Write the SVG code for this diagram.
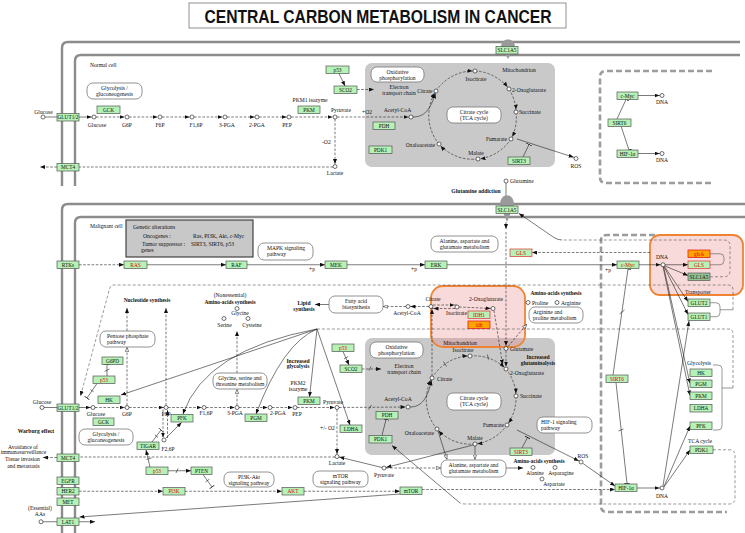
<svg xmlns="http://www.w3.org/2000/svg" width="745" height="533" viewBox="0 0 745 533">
<style>
text{font-family:"Liberation Serif","Times New Roman",serif;font-size:5.6px;fill:#111}
.m{text-anchor:middle}.e{text-anchor:end}.b{font-weight:bold}
.gb{fill:#b5f2b5;stroke:#555;stroke-width:.7}
.rbd{stroke:#e03030}
.ob{fill:#ffa500;stroke:#e02020;stroke-width:.8}
.db{fill:#94c294;stroke:#555;stroke-width:.7}
.gt{font-size:5.3px;text-anchor:middle}
.rt{fill:#e00000}
.cp{fill:#fff;stroke:#111;stroke-width:.6}
.pw{fill:#fff;stroke:#777;stroke-width:.8}
.l{fill:none;stroke:#222;stroke-width:.6}
.d{stroke-dasharray:2.6,1.6}
.mem{fill:none;stroke:#8c8c8c;stroke-width:2.4}
.nuc{fill:none;stroke:#9c9c9c;stroke-width:2.6;stroke-dasharray:6,3}
.mito{fill:#c9c9c9}
.hl{fill:#e87a7a;fill-opacity:.28;stroke:#ef8434;stroke-width:1.8}
.gd{fill:none;stroke:#555;stroke-width:.6;stroke-dasharray:3,2}
.br{fill:none;stroke:#555;stroke-width:.6}
.blob{fill:#9a9a9a}
</style>
<defs>
<marker id="a" viewBox="0 0 5 4" refX="5" refY="2" markerWidth="5" markerHeight="4" orient="auto" markerUnits="userSpaceOnUse"><path d="M0,0L5,2L0,4z" fill="#111"/></marker>
<marker id="ac" viewBox="0 0 5 4" refX="7.5" refY="2" markerWidth="5" markerHeight="4" orient="auto" markerUnits="userSpaceOnUse"><path d="M0,0L5,2L0,4z" fill="#111"/></marker>
<marker id="o" viewBox="0 0 5 4" refX="5" refY="2" markerWidth="5" markerHeight="4" orient="auto" markerUnits="userSpaceOnUse"><path d="M.3,.3L4.7,2L.3,3.7z" fill="#fff" stroke="#111" stroke-width=".5"/></marker>
<marker id="t" viewBox="0 0 1 6" refX=".5" refY="3" markerWidth="1" markerHeight="6" orient="auto" markerUnits="userSpaceOnUse"><path d="M.5,0V6" stroke="#111" stroke-width=".8"/></marker>
</defs>
<rect width="745" height="533" fill="#fff"/>

<g id="title">
<rect x="189" y="3" width="377" height="25" fill="#fff" stroke="#777" stroke-width=".8"/>
<text x="378" y="23" text-anchor="middle" style="font-family:'Liberation Sans',Arial,sans-serif;font-size:18px;font-weight:bold" textLength="347" lengthAdjust="spacingAndGlyphs">CENTRAL CARBON METABOLISM IN CANCER</text>
</g>

<g id="compartments">
<rect class="mito" x="365" y="63" width="190" height="104" rx="7"/>
<rect class="mito" x="365" y="338" width="190" height="117" rx="7"/>
<path class="nuc" d="M712,71H606Q600,71 600,77V177Q600,183 606,183H712"/>
<path class="nuc" d="M655,235H607Q601,235 601,241V506Q601,512 607,512H727"/>
<path class="mem" d="M62,186V48Q62,42 68,42H740"/>
<path class="mem" d="M75,186V61Q75,55 81,55H740"/>
<path class="mem" d="M62,533V210Q62,204 68,204H745"/>
<path class="mem" d="M75,533V223Q75,217 81,217H745"/>
<rect class="hl" x="431" y="286" width="94" height="61" rx="12"/>
<rect class="hl" x="650" y="235" width="93" height="60" rx="10"/>
</g>

<g id="connectors">
<!-- normal cell glycolysis -->
<path class="l" d="M45,117H57"/>
<path class="l" d="M79,117H94" marker-end="url(#ac)"/>
<path class="l d" d="M96,117H127" marker-end="url(#ac)"/>
<path class="l d" d="M129,117H160" marker-end="url(#ac)"/>
<path class="l d" d="M162,117H192" marker-end="url(#ac)"/>
<path class="l d" d="M194,117H225" marker-end="url(#ac)"/>
<path class="l d" d="M227,117H257" marker-end="url(#ac)"/>
<path class="l d" d="M259,117H289" marker-end="url(#ac)"/>
<path class="l d" d="M291,117H335" marker-end="url(#ac)"/>
<path class="l d" d="M337,117H411" marker-end="url(#ac)"/>
<path class="l d" d="M335,119V166.5" marker-end="url(#ac)"/>
<path class="l d" d="M333,167H79"/>
<path class="l d" d="M57,167H40" marker-end="url(#a)"/>
<path class="l" d="M339,73.5L345,86" marker-end="url(#a)"/>
<path class="l d" d="M357,89.5H374" marker-end="url(#a)"/>
<path class="l" d="M413,117C424,117 431,110 436,91" marker-end="url(#ac)"/>
<path class="l d" d="M436,91A45,45 0 0 1 475,71" marker-end="url(#ac)"/>
<path class="l d" d="M475,71A45,45 0 0 1 509,89" marker-end="url(#ac)"/>
<path class="l d" d="M509,89A45,45 0 0 1 516,112" marker-end="url(#ac)"/>
<path class="l d" d="M516,112A45,45 0 0 1 511,139" marker-end="url(#ac)"/>
<path class="l d" d="M511,139A45,45 0 0 1 478,159" marker-end="url(#ac)"/>
<path class="l d" d="M478,159A45,45 0 0 1 439,144" marker-end="url(#ac)"/>
<path class="l d" d="M439,144A45,45 0 0 1 436,91" marker-end="url(#ac)"/>
<path class="l" d="M517,139L576,158" marker-end="url(#ac)"/>
<path class="l" d="M523,157L529,144.5" marker-end="url(#t)"/>
<path class="l" d="M638,95.5H662" marker-end="url(#ac)"/>
<path class="l" d="M638,153.5H662" marker-end="url(#ac)"/>
<path class="l" d="M617,119L626,99.5" marker-end="url(#t)"/>
<path class="l" d="M621,126L629,150" marker-end="url(#t)"/>

<!-- glutamine / signalling -->
<path class="l" d="M506,183V197"/>
<path class="l" d="M506,222V229" marker-end="url(#a)"/>
<path class="l d" d="M506,232V348.5" marker-end="url(#ac)"/>
<path class="l d" d="M650,252.5H532" marker-end="url(#a)"/>
<path class="gd" d="M710,276.75H724Q730,276.75 730,270.75V246Q730,240 724,240H562"/>
<path class="l" d="M562,240Q558,240 554,237.5L519,213.5" marker-end="url(#a)"/>
<path class="br" d="M710,253.75H720Q724,253.75 724,257.75V260.75Q724,264.75 720,264.75H710"/>
<path class="l d" d="M79,264.75H124" marker-end="url(#a)"/>
<path class="l" d="M147,264.75H226" marker-end="url(#a)"/>
<path class="l" d="M247,264.75H325" marker-end="url(#a)"/>
<path class="l" d="M347,264.75H425" marker-end="url(#a)"/>
<path class="l" d="M447,264.75H617" marker-end="url(#a)"/>
<path class="l" d="M639,264.75H663" marker-end="url(#ac)"/>
<path class="l" d="M665,264.75H688" marker-end="url(#a)"/>
<path class="l" d="M665,266L688,275.5" marker-end="url(#a)"/>
<path class="l" d="M664.5,266.5L688,301.5" marker-end="url(#a)"/>
<path class="l" d="M664,266.5L688,314.5" marker-end="url(#a)"/>
<path class="l" d="M663.5,266.5L690,383.5" marker-end="url(#a)"/>
<path class="l" d="M663,266.5L690,395.5" marker-end="url(#a)"/>
<path class="br" d="M710,302.75H716Q720,302.75 720,306.75V312.75Q720,316.75 716,316.75H710M720,309.75H733"/>
<path class="gd" d="M733,309.75V290Q733,285 728,285H114Q110.5,285 109.5,289L80.5,396" marker-end="url(#a)"/>
<path class="br" d="M713,365H718Q722,365 722,369V426Q722,430 718,430H713M722,388H733"/>
<path class="gd" d="M733,388V334Q733,329 728,329H317"/>
<!-- fan to glycolysis enzymes -->
<path class="l" d="M317,329L121,395" marker-end="url(#a)"/>
<path class="l" d="M317,329Q205,350 183,414" marker-end="url(#a)"/>
<path class="l" d="M317,329Q283,343 256,414" marker-end="url(#a)"/>
<path class="l" d="M317,329L309.5,397" marker-end="url(#a)"/>
<path class="l" d="M317,329L350,425" marker-end="url(#a)"/>
<!-- nucleus lower -->
<path class="l" d="M663,486L689,321" marker-end="url(#a)"/>
<path class="l" d="M664,486.5L690,426" marker-end="url(#a)"/>
<path class="l" d="M664,487L690,450" marker-end="url(#a)"/>
<path class="l" d="M637,488H662" marker-end="url(#ac)"/>
<path class="l" d="M583,463.5L615,486" marker-end="url(#a)"/>
<path class="l" d="M517,430L581,462" marker-end="url(#ac)"/>
<path class="l" d="M522,448L527.5,437.5" marker-end="url(#t)"/>
<path class="l" d="M613,375L628,269" marker-end="url(#t)"/>
<path class="l" d="M619.5,314L624.5,310"/>
<path class="l" d="M616,382.5L627,483.5" marker-end="url(#t)"/>
<path class="l" d="M618.5,431L623.5,429"/>
<path class="l d" d="M422,489.5H615" marker-end="url(#a)"/>
<path class="gd" d="M713,449.75H729Q735,449.75 735,455.75V498Q735,504 729,504H466Q462,504 460,503"/>
<path class="l" d="M460,503L392,445.5" marker-end="url(#a)"/>
<!-- cytoplasm glycolysis malignant -->
<path class="l" d="M44,407.5H57"/>
<path class="l" d="M79,407.5H93" marker-end="url(#ac)"/>
<path class="l d" d="M95,407.5H127" marker-end="url(#ac)"/>
<path class="l d" d="M129,407.5H166" marker-end="url(#ac)"/>
<path class="l d" d="M168,407.5H204" marker-end="url(#ac)"/>
<path class="l d" d="M206,407.5H237" marker-end="url(#ac)"/>
<path class="l d" d="M239,407.5H270" marker-end="url(#ac)"/>
<path class="l d" d="M272,407.5H295" marker-end="url(#ac)"/>
<path class="l d" d="M297,407.5H337" marker-end="url(#ac)"/>
<path class="l d" d="M339,407.5L408,407" marker-end="url(#ac)"/>
<path class="l" d="M368.5,409.5L371.5,405"/>
<path class="l d" d="M337,409.5V456.5" marker-end="url(#ac)"/>
<path class="l d" d="M335,457H79"/>
<path class="l d" d="M57,457.5H43" marker-end="url(#a)"/>
<path class="l d" d="M79,491.25H163" marker-end="url(#a)"/>
<path class="l d" d="M185,491.25H282" marker-end="url(#a)"/>
<path class="l d" d="M304,491.25H400" marker-end="url(#a)"/>
<path class="l" d="M400,494L79.5,517" marker-end="url(#a)"/>
<path class="l" d="M43,521.75H57"/>
<path class="l" d="M79,521.75H95" marker-end="url(#a)"/>
<path class="l d" d="M127,405.5V347" marker-end="url(#o)"/>
<path class="l d" d="M166,405.5V308" marker-end="url(#a)"/>
<path class="l d" d="M127,331V308" marker-end="url(#a)"/>
<path class="l d" d="M237,405.5V389" marker-end="url(#o)"/>
<path class="l d" d="M237,373V331" marker-end="url(#a)"/>
<path class="l" d="M107,376V364.5" marker-end="url(#t)"/>
<path class="l" d="M104.5,371.5L109.5,369"/>
<path class="l" d="M97,383.5L87,398" marker-end="url(#t)"/>
<path class="l" d="M90.4,389.6L93.6,391.8"/>
<path class="l d" d="M163,409.5V437.5" marker-end="url(#a)"/>
<path class="l d" d="M167.5,438V410" marker-end="url(#a)"/>
<path class="l" d="M166,438L181.5,422.5" marker-end="url(#a)"/>
<path class="l" d="M152,442L161,430" marker-end="url(#t)"/>
<path class="l" d="M155,435L158,437.5"/>
<path class="l" d="M150,467L146,450" marker-end="url(#a)"/>
<path class="l" d="M146.5,459.5L151.5,458"/>
<path class="l" d="M168,470.75H191" marker-end="url(#a)"/>
<path class="l" d="M176,473L178,468.5"/>
<path class="l" d="M203,474.5L212,487" marker-end="url(#t)"/>
<path class="l" d="M205.5,482L209.5,479"/>
<!-- lower mitochondrion -->
<path class="l" d="M343,351.5L349,365" marker-end="url(#a)"/>
<path class="l" d="M344,359L348,356.5"/>
<path class="l d" d="M362,369H381" marker-end="url(#a)"/>
<path class="l" d="M369,370.5L371,366.5"/>
<path class="l" d="M410,407C422,407 428,398 432,378" marker-end="url(#ac)"/>
<path class="l" d="M382,435.5L386,419.5" marker-end="url(#t)"/>
<path class="l d" d="M432,378A45,45 0 0 1 470,356" marker-end="url(#ac)"/>
<path class="l d" d="M470,356A45,45 0 0 1 506,369" marker-end="url(#ac)"/>
<path class="l d" d="M506,369A45,45 0 0 1 516,396" marker-end="url(#ac)"/>
<path class="l d" d="M516,396A45,45 0 0 1 507,425" marker-end="url(#ac)"/>
<path class="l d" d="M507,425A45,45 0 0 1 475,444" marker-end="url(#ac)"/>
<path class="l d" d="M475,444A45,45 0 0 1 437,429" marker-end="url(#ac)"/>
<path class="l d" d="M437,429A45,45 0 0 1 432,378" marker-end="url(#ac)"/>
<path class="l" d="M443.5,361.5L446.5,366.5M487.3,354.5L488.7,359.5"/>
<path class="l d" d="M432,376V306.5" marker-end="url(#ac)"/>
<path class="l d" d="M494,310.5L503,367" marker-end="url(#ac)"/>
<path class="l d" d="M506,350.5V369" marker-end="url(#ac)"/>
<path class="l d" d="M508,346.5L527,324" marker-end="url(#o)"/>
<path class="l" d="M473,445L384,468" marker-end="url(#ac)"/>
<path class="l" d="M438,431L447,459.5" marker-end="url(#o)"/>
<path class="l" d="M475,446V459.5" marker-end="url(#o)"/>
<path class="l d" d="M386,468H441" marker-end="url(#o)"/>
<path class="l" d="M382,467.5L337,456.5" marker-end="url(#ac)"/>
<path class="l" d="M506,468H523" marker-end="url(#a)"/>
<!-- cytosolic TCA part -->
<path class="l d" d="M406,306.5H383" marker-end="url(#o)"/>
<path class="l d" d="M429,306.5H408" marker-end="url(#ac)"/>
<path class="l d" d="M433,305H457" marker-end="url(#ac)"/>
<path class="l d" d="M455,308.5H431" marker-end="url(#ac)"/>
<path class="l d" d="M459,307L493,308.5" marker-end="url(#ac)"/>
<path class="l" d="M329,304.5H315" marker-end="url(#a)"/>
</g>

<g id="nodes">
<path class="blob" d="M501,47C501,37 515,37 515,47L508,59Z"/>
<path class="blob" d="M500,205C500,192 514,192 514,205L507,222Z"/>
<g id="n-slc1a5-a"><rect class="gb" x="496" y="46.5" width="22" height="7.5"/><text class="gt" x="507" y="52.2">SLC1A5</text></g>
<g id="n-glut12-a"><rect class="gb" x="57" y="113.5" width="22" height="7.5"/><text class="gt" x="68" y="119.2">GLUT1/2</text></g>
<g id="n-mct4-a"><rect class="gb" x="57" y="163.5" width="22" height="7.5"/><text class="gt" x="68" y="169.2">MCT4</text></g>
<g id="n-gck-a"><rect class="gb" x="97" y="106" width="23" height="7.5"/><text class="gt" x="108.5" y="111.7">GCK</text></g>
<g id="n-pkm-a"><rect class="gb" x="298" y="106" width="22" height="7.5"/><text class="gt" x="309" y="111.7">PKM</text></g>
<g id="n-p53-a"><rect class="gb" x="326" y="66" width="23" height="7.5"/><text class="gt" x="337.5" y="71.7">p53</text></g>
<g id="n-sco2-a"><rect class="gb" x="334" y="86" width="23" height="7.5"/><text class="gt" x="345.5" y="91.7">SCO2</text></g>
<g id="n-pdh-a"><rect class="gb" x="373" y="122" width="22" height="7.5"/><text class="gt" x="384" y="127.7">PDH</text></g>
<g id="n-pdk1-a"><rect class="gb" x="369" y="146" width="23" height="7.5"/><text class="gt" x="380.5" y="151.7">PDK1</text></g>
<g id="n-sirt3-a"><rect class="gb" x="508" y="157" width="22" height="7.5"/><text class="gt" x="519" y="162.7">SIRT3</text></g>
<g id="n-cmyc-a"><rect class="gb" x="617" y="92" width="21" height="7.5"/><text class="gt" x="627.5" y="97.7">c-Myc</text></g>
<g id="n-sirt6-a"><rect class="gb" x="608" y="119" width="23" height="7.5"/><text class="gt" x="619.5" y="124.7">SIRT6</text></g>
<g id="n-hif-a"><rect class="gb" x="617" y="150" width="21" height="7.5"/><text class="gt" x="627.5" y="155.7">HIF-1α</text></g>

<g id="n-slc1a5-b"><rect class="gb" x="496" y="206" width="22" height="7.5"/><text class="gt" x="507" y="211.7">SLC1A5</text></g>
<g id="n-rtks"><rect class="gb" x="57" y="261" width="22" height="7.5"/><text class="gt" x="68" y="266.7">RTKs</text></g>
<g id="n-ras"><rect class="gb" x="124" y="261" width="23" height="7.5"/><text class="gt rt" x="135.5" y="266.7">RAS</text></g>
<g id="n-raf"><rect class="gb" x="226" y="261" width="21" height="7.5"/><text class="gt" x="236.5" y="266.7">RAF</text></g>
<g id="n-mek"><rect class="gb" x="325" y="261" width="22" height="7.5"/><text class="gt" x="336" y="266.7">MEK</text></g>
<g id="n-erk"><rect class="gb" x="425" y="261" width="22" height="7.5"/><text class="gt" x="436" y="266.7">ERK</text></g>
<g id="n-cmyc-b"><rect class="gb" x="617" y="261" width="22" height="7.5"/><text class="gt rt" x="628" y="266.7">c-Myc</text></g>
<g id="n-gls-c"><rect class="gb rbd" x="510" y="249" width="22" height="7.5"/><text class="gt rt" x="521" y="254.7">GLS</text></g>
<g id="n-glsa"><rect class="ob" x="688" y="250" width="22" height="7.5"/><text class="gt rt" x="699" y="255.7">glsA</text></g>
<g id="n-gls-n"><rect class="gb rbd" x="688" y="261" width="22" height="7.5"/><text class="gt rt" x="699" y="266.7">GLS</text></g>
<g id="n-slc1a5-n"><rect class="db" x="688" y="273" width="22" height="7.5"/><text class="gt" x="699" y="278.7">SLC1A5</text></g>
<g id="n-glut2"><rect class="gb" x="688" y="299" width="22" height="7.5"/><text class="gt" x="699" y="304.7">GLUT2</text></g>
<g id="n-glut1"><rect class="gb" x="688" y="313" width="22" height="7.5"/><text class="gt" x="699" y="318.7">GLUT1</text></g>
<g id="n-p53-b"><rect class="gb" x="332" y="344" width="22" height="7.5"/><text class="gt rt" x="343" y="349.7">p53</text></g>
<g id="n-sco2-b"><rect class="gb" x="340" y="365" width="22" height="7.5"/><text class="gt" x="351" y="370.7">SCO2</text></g>
<g id="n-idh1"><rect class="gb rbd" x="468" y="311" width="22" height="7.5"/><text class="gt rt" x="479" y="316.7">IDH1</text></g>
<g id="n-idh"><rect class="ob" x="468" y="321" width="22" height="7.5"/><text class="gt rt" x="479" y="326.7">idh</text></g>
<g id="n-g6pd"><rect class="gb" x="102" y="357" width="21" height="7.5"/><text class="gt" x="112.5" y="362.7">G6PD</text></g>
<g id="n-p53-c"><rect class="gb" x="93" y="376" width="22" height="7.5"/><text class="gt rt" x="104" y="381.7">p53</text></g>
<g id="n-hk-c"><rect class="gb" x="98" y="396" width="22" height="7.5"/><text class="gt" x="109" y="401.7">HK</text></g>
<g id="n-glut12-b"><rect class="gb" x="57" y="404" width="22" height="7.5"/><text class="gt" x="68" y="409.7">GLUT1/2</text></g>
<g id="n-gck-b"><rect class="gb" x="93" y="418" width="21" height="7.5"/><text class="gt" x="103.5" y="423.7">GCK</text></g>
<g id="n-pfk-c"><rect class="gb" x="171" y="414.5" width="22" height="7.5"/><text class="gt" x="182" y="420.2">PFK</text></g>
<g id="n-pgm-c"><rect class="gb" x="245" y="414" width="22" height="7.5"/><text class="gt" x="256" y="419.7">PGM</text></g>
<g id="n-pkm-c"><rect class="gb" x="298" y="397" width="22" height="7.5"/><text class="gt" x="309" y="402.7">PKM</text></g>
<g id="n-ldha-c"><rect class="gb" x="340" y="425" width="22" height="7.5"/><text class="gt" x="351" y="430.7">LDHA</text></g>
<g id="n-tigar"><rect class="gb" x="137" y="442" width="22" height="7.5"/><text class="gt" x="148" y="447.7">TIGAR</text></g>
<g id="n-p53-d"><rect class="gb" x="146" y="467" width="22" height="7.5"/><text class="gt rt" x="157" y="472.7">p53</text></g>
<g id="n-pten"><rect class="gb" x="191" y="467" width="21" height="7.5"/><text class="gt" x="201.5" y="472.7">PTEN</text></g>
<g id="n-mct4-b"><rect class="gb" x="57" y="454" width="22" height="7.5"/><text class="gt" x="68" y="459.7">MCT4</text></g>
<g id="n-egfr"><rect class="gb" x="57" y="477" width="22" height="7.5"/><text class="gt" x="68" y="482.7">EGFR</text></g>
<g id="n-her2"><rect class="gb" x="57" y="487.5" width="22" height="7.5"/><text class="gt" x="68" y="493.2">HER2</text></g>
<g id="n-met"><rect class="gb" x="57" y="498" width="22" height="7.5"/><text class="gt" x="68" y="503.7">MET</text></g>
<g id="n-lat1"><rect class="gb" x="57" y="518" width="22" height="7.5"/><text class="gt" x="68" y="523.7">LAT1</text></g>
<g id="n-pi3k"><rect class="gb" x="163" y="487.5" width="22" height="7.5"/><text class="gt rt" x="174" y="493.2">PI3K</text></g>
<g id="n-akt"><rect class="gb" x="282" y="487.5" width="22" height="7.5"/><text class="gt rt" x="293" y="493.2">AKT</text></g>
<g id="n-mtor"><rect class="gb" x="400" y="487" width="22" height="7.5"/><text class="gt" x="411" y="492.7">mTOR</text></g>
<g id="n-pdh-b"><rect class="gb" x="376" y="411.5" width="22" height="7.5"/><text class="gt" x="387" y="417.2">PDH</text></g>
<g id="n-pdk1-b"><rect class="gb" x="369" y="435.5" width="23" height="7.5"/><text class="gt" x="380.5" y="441.2">PDK1</text></g>
<g id="n-sirt3-b"><rect class="gb" x="510" y="448" width="22" height="7.5"/><text class="gt rt" x="521" y="453.7">SIRT3</text></g>
<g id="n-sirt6-b"><rect class="gb" x="606" y="375" width="22" height="7.5"/><text class="gt rt" x="617" y="380.7">SIRT6</text></g>
<g id="n-hif-b"><rect class="gb" x="615" y="484" width="22" height="7.5"/><text class="gt" x="626" y="489.7">HIF-1α</text></g>
<g id="n-hk-n"><rect class="gb" x="690" y="369" width="22" height="7.5"/><text class="gt" x="701" y="374.7">HK</text></g>
<g id="n-pgm-n"><rect class="gb" x="690" y="380" width="22" height="7.5"/><text class="gt" x="701" y="385.7">PGM</text></g>
<g id="n-pkm-n"><rect class="gb" x="690" y="392" width="22" height="7.5"/><text class="gt" x="701" y="397.7">PKM</text></g>
<g id="n-ldha-n"><rect class="gb" x="690" y="404.5" width="22" height="7.5"/><text class="gt" x="701" y="410.2">LDHA</text></g>
<g id="n-pfk-n"><rect class="gb" x="690" y="422" width="22" height="7.5"/><text class="gt" x="701" y="427.7">PFK</text></g>
<g id="n-pdk1-n"><rect class="gb" x="690" y="446" width="23" height="7.5"/><text class="gt" x="701.5" y="451.7">PDK1</text></g>

<!-- pathway maps -->
<g id="p-glyco-a"><rect class="pw" x="87" y="83" width="55" height="16" rx="6"/><text class="m" x="114.5" y="89.5">Glycolysis /</text><text class="m" x="114.5" y="95.5">gluconeogenesis</text></g>
<g id="p-oxphos-a"><rect class="pw" x="371" y="67" width="53" height="15" rx="6"/><text class="m" x="397.5" y="73.5">Oxidative</text><text class="m" x="397.5" y="79.5">phosphorylation</text></g>
<g id="p-tca-a"><rect class="pw" x="447" y="107" width="54" height="16" rx="6"/><text class="m" x="474" y="113.5">Citrate cycle</text><text class="m" x="474" y="119.5">(TCA cycle)</text></g>
<g id="p-mapk"><rect class="pw" x="258" y="243" width="55" height="17" rx="6"/><text x="267" y="250">MAPK signaling</text><text x="267" y="256">pathway</text></g>
<g id="p-ala-a"><rect class="pw" x="431" y="236" width="67" height="16" rx="6"/><text class="m" x="464.5" y="242.5">Alanine, aspartate and</text><text class="m" x="464.5" y="248.5">glutamate metabolism</text></g>
<g id="p-ppp"><rect class="pw" x="100" y="331" width="55" height="16" rx="6"/><text x="107" y="337.5">Pentose phosphate</text><text x="107" y="343.5">pathway</text></g>
<g id="p-fa"><rect class="pw" x="329" y="296" width="54" height="17" rx="6"/><text class="m" x="356" y="302.5">Fatty acid</text><text class="m" x="356" y="308.5">biosynthesis</text></g>
<g id="p-arg"><rect class="pw" x="529" y="307" width="54" height="16" rx="6"/><text x="533" y="313.5">Arginine and</text><text x="533" y="319.5">proline metabolism</text></g>
<g id="p-oxphos-b"><rect class="pw" x="370" y="342" width="53" height="16" rx="6"/><text class="m" x="396.5" y="348.5">Oxidative</text><text class="m" x="396.5" y="354.5">phosphorylation</text></g>
<g id="p-gly"><rect class="pw" x="213" y="373" width="54" height="16" rx="6"/><text class="m" x="240" y="379.5">Glycine, serine and</text><text class="m" x="240" y="385.5">threonine metabolism</text></g>
<g id="p-tca-b"><rect class="pw" x="447" y="393" width="54" height="17" rx="6"/><text class="m" x="474" y="400">Citrate cycle</text><text class="m" x="474" y="406">(TCA cycle)</text></g>
<g id="p-hif"><rect class="pw" x="537" y="417" width="55" height="16" rx="6"/><text x="541" y="423.5">HIF-1 signaling</text><text x="541" y="429.5">pathway</text></g>
<g id="p-glyco-b"><rect class="pw" x="79" y="429" width="54" height="16" rx="6"/><text class="m" x="106" y="435.5">Glycolysis /</text><text class="m" x="106" y="441.5">gluconeogenesis</text></g>
<g id="p-pi3k"><rect class="pw" x="224" y="472" width="50" height="15" rx="6"/><text class="m" x="249" y="478.5">PI3K-Akt</text><text class="m" x="249" y="484.5">signaling pathway</text></g>
<g id="p-mtor"><rect class="pw" x="313" y="471" width="55" height="16" rx="6"/><text class="m" x="340.5" y="478">mTOR</text><text class="m" x="340.5" y="484">signaling pathway</text></g>
<g id="p-ala-b"><rect class="pw" x="441" y="460" width="65" height="17" rx="6"/><text class="m" x="473.5" y="466.5">Alanine, aspartate and</text><text class="m" x="473.5" y="472.5">glutamate metabolism</text></g>
<g id="genetic-alterations"><rect x="126" y="220" width="127" height="37" fill="#c8c8c8" stroke="#333" stroke-width="1.1"/>
<text x="133" y="229">Genetic alterations</text><text x="143" y="237.5">Oncogenes :</text><text x="193" y="237.5">Ras, PI3K, Akt, c-Myc</text>
<text x="142" y="246">Tumor suppressor :</text><text x="191" y="246">SIRT3, SIRT6, p53</text><text x="141" y="251.5">genes</text></g>

<!-- compounds -->
<g id="c-glc-out-a"><circle class="cp" cx="43" cy="117" r="2"/><text class="m" x="43.5" y="113.5">Glucose</text></g>
<g id="c-glc-a"><circle class="cp" cx="94" cy="117" r="2"/><text class="m" x="97" y="126.5">Glucose</text></g>
<g id="c-g6p-a"><circle class="cp" cx="127" cy="117" r="2"/><text class="m" x="127" y="126.5">G6P</text></g>
<g id="c-f6p-a"><circle class="cp" cx="160" cy="117" r="2"/><text class="m" x="160" y="126.5">F6P</text></g>
<g id="c-f16p-a"><circle class="cp" cx="192" cy="117" r="2"/><text class="m" x="196" y="126.5">F1,6P</text></g>
<g id="c-3pga-a"><circle class="cp" cx="225" cy="117" r="2"/><text class="m" x="227" y="126.5">3-PGA</text></g>
<g id="c-2pga-a"><circle class="cp" cx="257" cy="117" r="2"/><text class="m" x="257" y="126.5">2-PGA</text></g>
<g id="c-pep-a"><circle class="cp" cx="289" cy="117" r="2"/><text class="m" x="287" y="126.5">PEP</text></g>
<g id="c-pyr-a"><circle class="cp" cx="335" cy="117" r="2"/><text x="331" y="112">Pyruvate</text></g>
<g id="c-lac-a"><circle class="cp" cx="335" cy="166.5" r="2"/><text class="m" x="335" y="175">Lactate</text></g>
<g id="c-accoa-a"><circle class="cp" cx="411" cy="117" r="2"/><text class="m" x="397.5" y="111.5">Acetyl-CoA</text></g>
<g id="c-cit-a"><circle class="cp" cx="436" cy="91" r="2"/><text class="e" x="432.5" y="93">Citrate</text></g>
<g id="c-icit-a"><circle class="cp" cx="475" cy="71" r="2"/><text class="m" x="476" y="81">Isocitrate</text></g>
<g id="c-2og-a"><circle class="cp" cx="509" cy="89" r="2"/><text x="512" y="91.5">2-Oxoglutarate</text></g>
<g id="c-suc-a"><circle class="cp" cx="516" cy="112" r="2"/><text x="519" y="114">Succinate</text></g>
<g id="c-fum-a"><circle class="cp" cx="511" cy="139" r="2"/><text class="e" x="507" y="141">Fumarate</text></g>
<g id="c-mal-a"><circle class="cp" cx="478" cy="159" r="2"/><text class="m" x="476" y="154.5">Malate</text></g>
<g id="c-oaa-a"><circle class="cp" cx="439" cy="144" r="2"/><text class="e" x="435" y="147">Oxaloacetate</text></g>
<g id="c-ros-a"><circle class="cp" cx="576" cy="158.5" r="2"/><text class="m" x="576" y="168">ROS</text></g>
<g id="c-dna-a1"><circle class="cp" cx="662" cy="95.5" r="2"/><text class="m" x="662" y="104">DNA</text></g>
<g id="c-dna-a2"><circle class="cp" cx="662" cy="153.5" r="2"/><text class="m" x="662" y="162">DNA</text></g>
<g id="c-gln"><circle class="cp" cx="506" cy="181" r="2"/><text x="510" y="183">Glutamine</text></g>
<g id="c-dna-b1"><circle class="cp" cx="663" cy="264.75" r="2"/><text class="m" x="662" y="259">DNA</text></g>
<g id="c-gly"><circle class="cp" cx="237" cy="308.5" r="2"/><text class="m" x="240" y="315">Glycine</text></g>
<g id="c-ser"><circle class="cp" cx="224" cy="318.5" r="2"/><text class="m" x="224.5" y="327">Serine</text></g>
<g id="c-cys"><circle class="cp" cx="248" cy="318.5" r="2"/><text class="m" x="252" y="327">Cysteine</text></g>
<g id="c-accoa-c"><circle class="cp" cx="408" cy="306.5" r="2"/><text class="m" x="407" y="314.5">Acetyl-CoA</text></g>
<g id="c-cit-c"><circle class="cp" cx="431" cy="306.5" r="2"/><text class="m" x="433" y="300.5">Citrate</text></g>
<g id="c-icit-c"><circle class="cp" cx="457" cy="307" r="2"/><text class="m" x="456.5" y="314.5">Isocitrate</text></g>
<g id="c-2og-c"><circle class="cp" cx="493" cy="308.5" r="2"/><text class="m" x="486" y="301">2-Oxoglutarate</text></g>
<g id="c-pro"><circle class="cp" cx="528" cy="302.5" r="2"/><text x="532" y="304.5">Proline</text></g>
<g id="c-arg"><circle class="cp" cx="557" cy="302.5" r="2"/><text x="561" y="304.5">Arginine</text></g>
<g id="c-glu"><circle class="cp" cx="506" cy="348.5" r="2"/><text x="510" y="350.5">Glutamate</text></g>
<g id="c-glc-out-b"><circle class="cp" cx="42" cy="407.5" r="2"/><text class="m" x="42" y="404">Glucose</text></g>
<g id="c-glc-b"><circle class="cp" cx="93" cy="407.5" r="2"/><text class="m" x="96" y="416">Glucose</text></g>
<g id="c-g6p-b"><circle class="cp" cx="127" cy="407.5" r="2"/><text class="m" x="127" y="416">G6P</text></g>
<g id="c-f6p-b"><circle class="cp" cx="166" cy="407.5" r="2"/><text class="m" x="166" y="416">F6P</text></g>
<g id="c-f16p-b"><circle class="cp" cx="204" cy="407.5" r="2"/><text class="m" x="206" y="415">F1,6P</text></g>
<g id="c-3pga-b"><circle class="cp" cx="237" cy="407.5" r="2"/><text class="m" x="235" y="415">3-PGA</text></g>
<g id="c-2pga-b"><circle class="cp" cx="270" cy="407.5" r="2"/><text class="m" x="278" y="415">2-PGA</text></g>
<g id="c-pep-b"><circle class="cp" cx="295" cy="407.5" r="2"/><text class="m" x="297" y="416">PEP</text></g>
<g id="c-pyr-b"><circle class="cp" cx="337" cy="407.5" r="2"/><text class="m" x="333" y="403.5">Pyruvate</text></g>
<g id="c-f26p"><circle class="cp" cx="164" cy="440" r="2"/><text class="m" x="168" y="451">F2,6P</text></g>
<g id="c-lac-b"><circle class="cp" cx="337" cy="456.5" r="2"/><text class="m" x="337" y="465">Lactate</text></g>
<g id="c-accoa-b"><circle class="cp" cx="408" cy="407" r="2"/><text class="m" x="398" y="400.5">Acetyl-CoA</text></g>
<g id="c-cit-b"><circle class="cp" cx="432" cy="378" r="2"/><text x="437" y="381">Citrate</text></g>
<g id="c-icit-b"><circle class="cp" cx="470" cy="356" r="2"/><text class="m" x="463" y="352">Isocitrate</text></g>
<g id="c-2og-b"><circle class="cp" cx="506" cy="369" r="2"/><text x="510" y="375">2-Oxoglutarate</text></g>
<g id="c-suc-b"><circle class="cp" cx="516" cy="396" r="2"/><text x="520" y="398">Succinate</text></g>
<g id="c-fum-b"><circle class="cp" cx="507" cy="425" r="2"/><text class="e" x="504" y="427">Fumarate</text></g>
<g id="c-mal-b"><circle class="cp" cx="475" cy="444" r="2"/><text class="m" x="475" y="440">Malate</text></g>
<g id="c-oaa-b"><circle class="cp" cx="437" cy="429" r="2"/><text class="e" x="434" y="435">Oxaloacetate</text></g>
<g id="c-pyr-c"><circle class="cp" cx="384" cy="468" r="2"/><text class="m" x="384" y="476.5">Pyruvate</text></g>
<g id="c-ala"><circle class="cp" cx="533" cy="467.5" r="2"/><text class="m" x="535" y="474.5">Alanine</text></g>
<g id="c-asn"><circle class="cp" cx="555" cy="467.5" r="2"/><text class="m" x="561" y="474.5">Asparagine</text></g>
<g id="c-asp"><circle class="cp" cx="542" cy="479" r="2"/><text class="m" x="554" y="486">Aspartate</text></g>
<g id="c-ros-b"><circle class="cp" cx="581" cy="462" r="2"/><text class="m" x="583" y="458">ROS</text></g>
<g id="c-dna-b2"><circle class="cp" cx="662" cy="488" r="2"/><text class="m" x="662" y="497.5">DNA</text></g>
<g id="c-aas"><circle class="cp" cx="41" cy="521.75" r="2"/><text class="m" x="40" y="510">(Essential)</text><text class="m" x="40" y="516">AAs</text></g>
</g>

<g id="labels">
<text x="90" y="67">Normal cell</text>
<text x="310" y="102" class="m">PKM1 isozyme</text>
<text x="362" y="113.5">+O2</text>
<text x="322" y="143.5">-O2</text>
<text class="m" x="519" y="72">Mitochondrion</text>
<text class="m" x="399" y="88.5">Electron</text>
<text class="m" x="399" y="94.5">transport chain</text>
<text class="m b" x="476" y="193">Glutamine addiction</text>
<text x="90" y="228">Malignant cell</text>
<text x="309" y="271">+p</text>
<text x="411" y="271">+p</text>
<text x="605" y="272">+p</text>
<text x="685" y="293.5">Transporter</text>
<text class="m b" x="556" y="294.5" style="font-size:5.4px">Amino-acids synthesis</text>
<text class="m b" x="147" y="302" style="font-size:5.4px">Nucleotide synthesis</text>
<text class="m" x="230" y="297">(Nonessential)</text>
<text class="m b" x="230" y="303.5" style="font-size:5.4px">Amino-acids synthesis</text>
<text class="m b" x="304" y="305">Lipid</text>
<text class="m b" x="304" y="311">synthesis</text>
<text class="m" x="460" y="345">Mitochondrion</text>
<text class="m b" x="538" y="359">Increased</text>
<text class="m b" x="538" y="365">glutaminolysis</text>
<text class="m" x="404" y="367.5">Electron</text>
<text class="m" x="404" y="373.5">transport chain</text>
<text class="m b" x="298" y="362.5">Increased</text>
<text class="m b" x="298" y="368">glycolysis</text>
<text class="m" x="298" y="384.5">PKM2</text>
<text class="m" x="298" y="390.5">isozyme</text>
<text x="320" y="430">+/- O2</text>
<text class="m b" x="36" y="433">Warburg effect</text>
<text class="m" x="23" y="448.5">Avoidance of</text>
<text class="m" x="23.5" y="454">immunosurveillance</text>
<text class="m" x="22.5" y="461">Tissue invasion</text>
<text class="m" x="23.5" y="467.5">and metastasis</text>
<text class="m b" x="539" y="462.5" style="font-size:5.4px">Amino-acids synthesis</text>
<text x="687" y="365">Glycolysis</text>
<text x="688" y="443">TCA cycle</text>
</g>
</svg>
